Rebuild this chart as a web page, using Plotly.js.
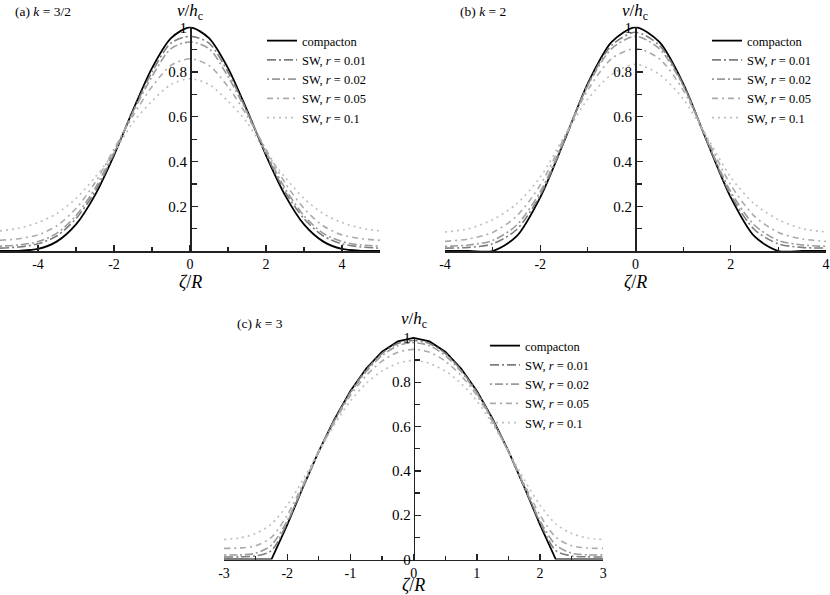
<!DOCTYPE html>
<html>
<head>
<meta charset="utf-8">
<script src="https://cdn.plot.ly/plotly-3.0.1.min.js"></script>
<style>
  html, body { margin: 0; padding: 0; background: #fff; }
  #graph { width: 830px; height: 595px; }
</style>
</head>
<body>
<div id="graph"></div>
<script>
// series names
const names = ['compacton', 'SW, <i>r</i> = 0.01', 'SW, <i>r</i> = 0.02', 'SW, <i>r</i> = 0.05', 'SW, <i>r</i> = 0.1']

// (a) k = 3/2
const xA = [-5, -4.5, -4, -3.5, -3, -2.5, -2, -1.5, -1, -0.5, 0, 0.5, 1, 1.5, 2, 2.5, 3, 3.5, 4, 4.5, 5]
const compactonA = [0, 0.001, 0.009, 0.043, 0.119, 0.25, 0.428, 0.63, 0.818, 0.952, 1, 0.952, 0.818, 0.63, 0.428, 0.25, 0.119, 0.043, 0.009, 0.001, 0]
const sw01A = [0.013, 0.018, 0.032, 0.068, 0.145, 0.265, 0.435, 0.625, 0.8, 0.93, 0.96, 0.93, 0.8, 0.625, 0.435, 0.265, 0.145, 0.068, 0.032, 0.018, 0.013]
const sw02A = [0.022, 0.027, 0.042, 0.08, 0.158, 0.28, 0.445, 0.62, 0.78, 0.905, 0.935, 0.905, 0.78, 0.62, 0.445, 0.28, 0.158, 0.08, 0.042, 0.027, 0.022]
const sw05A = [0.048, 0.055, 0.072, 0.113, 0.19, 0.305, 0.455, 0.605, 0.735, 0.83, 0.86, 0.83, 0.735, 0.605, 0.455, 0.305, 0.19, 0.113, 0.072, 0.055, 0.048]
const sw1A = [0.09, 0.102, 0.127, 0.168, 0.235, 0.33, 0.44, 0.575, 0.67, 0.745, 0.77, 0.745, 0.67, 0.575, 0.44, 0.33, 0.235, 0.168, 0.127, 0.102, 0.09]
const ticksA = [-4, -2, 0, 2, 4]

// (b) k = 2
const xB = [-4, -3.5, -3, -2.5, -2, -1.5, -1, -0.5, 0, 0.5, 1, 1.5, 2, 2.5, 3, 3.5, 4]
const compactonB = [0, 0, 0, 0.065, 0.24, 0.49, 0.75, 0.935, 1, 0.935, 0.75, 0.49, 0.24, 0.065, 0, 0, 0]
const sw01B = [0.013, 0.016, 0.032, 0.095, 0.25, 0.49, 0.745, 0.92, 0.978, 0.92, 0.745, 0.49, 0.25, 0.095, 0.032, 0.016, 0.013]
const sw02B = [0.021, 0.027, 0.047, 0.115, 0.265, 0.495, 0.74, 0.905, 0.96, 0.905, 0.74, 0.495, 0.265, 0.115, 0.047, 0.027, 0.021]
const sw05B = [0.043, 0.054, 0.083, 0.155, 0.295, 0.505, 0.72, 0.86, 0.905, 0.86, 0.72, 0.505, 0.295, 0.155, 0.083, 0.054, 0.043]
const sw1B = [0.085, 0.1, 0.14, 0.21, 0.33, 0.51, 0.68, 0.79, 0.835, 0.79, 0.68, 0.51, 0.33, 0.21, 0.14, 0.1, 0.085]
const ticksB = [-4, -2, 0, 2, 4]

// (c) k = 3
const xC = [-3, -2.75, -2.5, -2.25, -2, -1.75, -1.5, -1.25, -1, -0.75, -0.5, -0.25, 0, 0.25, 0.5, 0.75, 1, 1.25, 1.5, 1.75, 2, 2.25, 2.5, 2.75, 3]
const compactonC = [0, 0, 0, 0, 0.156, 0.327, 0.489, 0.634, 0.76, 0.862, 0.938, 0.984, 1, 0.984, 0.938, 0.862, 0.76, 0.634, 0.489, 0.327, 0.156, 0, 0, 0, 0]
const sw01C = [0.011, 0.012, 0.016, 0.04, 0.165, 0.328, 0.487, 0.63, 0.755, 0.855, 0.93, 0.975, 0.988, 0.975, 0.93, 0.855, 0.755, 0.63, 0.487, 0.328, 0.165, 0.04, 0.016, 0.012, 0.011]
const sw02C = [0.02, 0.021, 0.028, 0.065, 0.175, 0.33, 0.487, 0.628, 0.75, 0.848, 0.92, 0.965, 0.978, 0.965, 0.92, 0.848, 0.75, 0.628, 0.487, 0.33, 0.175, 0.065, 0.028, 0.021, 0.02]
const sw05C = [0.05, 0.052, 0.062, 0.1, 0.2, 0.34, 0.485, 0.62, 0.74, 0.83, 0.895, 0.935, 0.948, 0.935, 0.895, 0.83, 0.74, 0.62, 0.485, 0.34, 0.2, 0.1, 0.062, 0.052, 0.05]
const sw1C = [0.09, 0.097, 0.117, 0.16, 0.245, 0.36, 0.49, 0.61, 0.715, 0.795, 0.85, 0.885, 0.898, 0.885, 0.85, 0.795, 0.715, 0.61, 0.49, 0.36, 0.245, 0.16, 0.117, 0.097, 0.09]
const ticksC = [-3, -2, -1, 0, 1, 2, 3]

const lineStyles = [
  {color: '#000000', width: 1.8, dash: 'solid'},
  {color: '#7d7d7d', width: 1.6, dash: '9px,3px,2px,3px'},
  {color: '#9a9a9a', width: 1.6, dash: '2px,3px,8px,3px'},
  {color: '#ababab', width: 1.6, dash: '6px,4px,2px,4px'},
  {color: '#bebebe', width: 1.6, dash: '2px,4px'}
]

function panelTraces(x, series, xa, ya, legendId, compactonShape) {
  return series.map((y, i) => ({
    x: x,
    y: y,
    xaxis: xa,
    yaxis: ya,
    legend: legendId,
    name: names[i],
    mode: 'lines',
    line: {...lineStyles[i], shape: i === 0 ? compactonShape : 'spline', smoothing: 0.8},
    hoverinfo: 'skip'
  }))
}

const data = [
  ...panelTraces(xA, [compactonA, sw01A, sw02A, sw05A, sw1A], 'x', 'y', 'legend', 'spline'),
  ...panelTraces(xB, [compactonB, sw01B, sw02B, sw05B, sw1B], 'x2', 'y2', 'legend2', 'spline'),
  ...panelTraces(xC, [compactonC, sw01C, sw02C, sw05C, sw1C], 'x3', 'y3', 'legend3', 'linear')
]

// plain hyphen for negative tick labels, like the original
const tickText = vals => vals.map(v => String(v).replace('−', '-'))

function xAxis(range, tickvals, minorDtick, domain, anchor) {
  return {
    range: range, domain: domain, anchor: anchor,
    tickmode: 'array', tickvals: tickvals, ticktext: tickText(tickvals),
    ticks: 'inside', ticklen: 6, tickwidth: 1.3, tickcolor: '#222',
    minor: {ticks: 'inside', ticklen: 4, dtick: minorDtick, tick0: 0, tickcolor: '#222', tickwidth: 1.2},
    showline: true, linecolor: '#222', linewidth: 1.5,
    showgrid: false, zeroline: false,
    tickfont: {size: 14},
    ticklabeloverflow: 'allow'
  }
}

function yAxis(tickvals, domain, position) {
  return {
    range: [0, 1.004], domain: domain, anchor: 'free', position: position,
    tickmode: 'array', tickvals: tickvals,
    ticks: 'inside', ticklen: 6, tickwidth: 1.3, tickcolor: '#222',
    minor: {tickmode: 'array', tickvals: [0.1, 0.3, 0.5, 0.7, 0.9], ticks: 'inside', ticklen: 5, tickcolor: '#222', tickwidth: 1.2},
    showline: true, linecolor: '#222', linewidth: 1.5,
    showgrid: false, zeroline: false,
    tickfont: {size: 15},
    ticklabeloverflow: 'allow',
    ticklabelstandoff: 0
  }
}

const legendBase = {
  xanchor: 'left', yanchor: 'top',
  bgcolor: 'rgba(0,0,0,0)',
  font: {size: 12.5},
  itemwidth: 30,
  tracegroupgap: 0
}

function note(text, x, y, size, anchor) {
  return {text: text, xref: 'paper', yref: 'paper', x: x / 830, y: 1 - y / 595,
    showarrow: false, xanchor: anchor, yanchor: 'middle', font: {size: size}}
}
const yTitle = '<i>v</i>/<i>h</i><sub>c</sub>'
const xTitle = '<i>ζ</i>/<i>R</i>'

const layout = {
  width: 830, height: 595,
  margin: {l: 0, r: 0, t: 0, b: 0},
  paper_bgcolor: '#fff', plot_bgcolor: '#fff',
  font: {family: '"Liberation Serif", "Times New Roman", serif', size: 14, color: '#000'},
  showlegend: true,
  xaxis: xAxis([-5, 5], ticksA, 1, [0, 380 / 830], 'y'),
  yaxis: yAxis([0.2, 0.4, 0.6, 0.8, 1], [1 - 251 / 595, 1 - 26.5 / 595], 190 / 830),
  xaxis2: xAxis([-4, 4], ticksB, 1, [445 / 830, 826 / 830], 'y2'),
  yaxis2: yAxis([0.2, 0.4, 0.6, 0.8, 1], [1 - 251 / 595, 1 - 26.5 / 595], 635 / 830),
  xaxis3: xAxis([-3, 3], ticksC, 0.5, [224 / 830, 603.3 / 830], 'y3'),
  yaxis3: yAxis([0, 0.2, 0.4, 0.6, 0.8, 1], [1 - 559.5 / 595, 1 - 337 / 595], 413.7 / 830),
  legend: {...legendBase, x: 262 / 830, y: 1 - 26 / 595},
  legend2: {...legendBase, x: 707 / 830, y: 1 - 26 / 595},
  legend3: {...legendBase, x: 485 / 830, y: 1 - 331 / 595},
  annotations: [
    note('(a) <i>k</i> = 3/2', 13, 11, 13.5, 'left'),
    note('(b) <i>k</i> = 2', 458, 11, 13.5, 'left'),
    note('(c) <i>k</i> = 3', 235, 323, 13.5, 'left'),
    note(yTitle, 190, 12, 17, 'center'),
    note(yTitle, 635, 12, 17, 'center'),
    note(yTitle, 413.7, 320, 17, 'center'),
    note(xTitle, 190, 282, 18, 'center'),
    note(xTitle, 635, 282, 18, 'center'),
    note(xTitle, 413.7, 585, 18, 'center')
  ]
}

Plotly.newPlot('graph', data, layout, {displayModeBar: false, staticPlot: true})
</script>
</body>
</html>
